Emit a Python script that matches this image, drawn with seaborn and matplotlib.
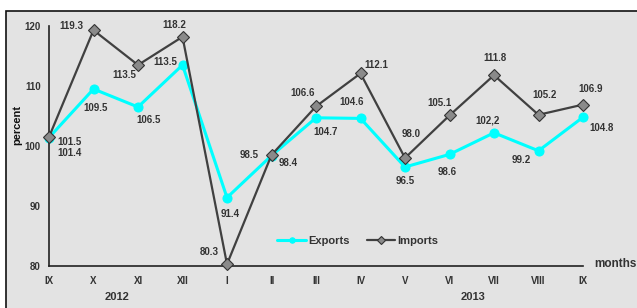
import matplotlib

matplotlib.use("Agg")

import matplotlib.pyplot as plt
import pandas as pd
import seaborn as sns
from matplotlib.patches import Rectangle

months = ["IX", "X", "XI", "XII", "I", "II", "III", "IV", "V", "VI", "VII", "VIII", "IX"]
exports = [101.4, 109.5, 106.5, 113.5, 91.4, 98.4, 104.7, 104.6, 96.5, 98.6, 102.2, 99.2, 104.8]
imports = [101.5, 119.3, 113.5, 118.2, 80.3, 98.5, 106.6, 112.1, 98.0, 105.1, 111.8, 105.2, 106.9]
years = ["2012", "2013"]

# label offsets in pixels (dx, dy), dy positive = up
exp_off = [(21, -15), (2, -19), (11, -13), (-17, 3), (3, -16), (17, -7),
           (10, -14), (-9, 16), (0, -14), (-2, -18), (-6, 12), (-17, -9), (19, -11)]
imp_off = [(21, -5), (-22, 4), (-14, -10), (-8, 12), (-18, 12), (-22, 0),
           (-13, 13), (16, 8), (6, 24), (-10, 12), (1, 17), (6, 20), (8, 16)]

sns.set_style("white")
plt.rcParams["font.family"] = ["Liberation Sans", "DejaVu Sans"]
TXT = "#333333"

df = pd.DataFrame({"pos": list(range(len(months))) * 2,
                   "value": exports + imports,
                   "series": ["Exports"] * len(months) + ["Imports"] * len(months)})

W, H = 637, 308
fig = plt.figure(figsize=(W / 100, H / 100), dpi=100, facecolor="white")
fig.patches.append(Rectangle((6 / W, -0.1), 1.0, (H - 11) / H + 0.1,
                             transform=fig.transFigure, facecolor="#e3e3e3",
                             edgecolor="#111111", lw=1.2, zorder=-5))

ax = fig.add_axes([49 / W, 42 / H, (583 - 49) / W, 240 / H])
ax.set_facecolor("none")
ax.set_zorder(2)

sns.lineplot(data=df[df.series == "Imports"], x="pos", y="value", ax=ax,
             color="#404040", lw=1.6, marker="D", markersize=6.5,
             markerfacecolor="#8a8a8a", markeredgecolor="#333333",
             markeredgewidth=0.8, clip_on=False, label="Imports", zorder=3)
sns.lineplot(data=df[df.series == "Exports"], x="pos", y="value", ax=ax,
             color="#00ffff", lw=2.2, marker="o", markersize=6.5,
             markeredgecolor="#00ffff", clip_on=False, label="Exports", zorder=2)

for i, (e, m) in enumerate(zip(exports, imports)):
    for v, (dx, dy) in ((e, exp_off[i]), (m, imp_off[i])):
        txt = f"{v:.1f}"
        if v is exports[10]:
            txt = txt.replace(".", ",")  # the source writes 102,2
        ax.annotate(txt, (i, v), xytext=(dx, dy), textcoords="offset pixels",
                    ha="center", va="center", fontsize=7, fontweight="bold",
                    color=TXT, annotation_clip=False)

ax.set_xlim(0, 12)
ax.set_ylim(80, 120)
ax.set_xticks(range(len(months)))
ax.set_xticklabels(months)
ax.set_yticks([80, 90, 100, 110, 120])
ax.tick_params(axis="x", direction="inout", length=6, width=1, colors=TXT,
               labelsize=7, pad=4)
ax.tick_params(axis="y", direction="out", length=4, width=1, colors=TXT,
               labelsize=7, pad=2)
for lab in ax.get_xticklabels() + ax.get_yticklabels():
    lab.set_fontweight("bold")
for s in ("top", "right"):
    ax.spines[s].set_visible(False)
for s in ("left", "bottom"):
    ax.spines[s].set_color("#222222")
    ax.spines[s].set_linewidth(1.2)
ax.set_xlabel("")
ax.set_ylabel("percent", fontsize=8, fontweight="bold", color="#111111")
ax.yaxis.set_label_coords((22 - 49) / (583 - 49), (266 - 125) / 240)

fig.text(594 / W, 1 - 264 / H, "months", fontsize=8.5, fontweight="bold",
         color=TXT, va="center", ha="left")
fig.text(117 / W, 1 - 297 / H, years[0], fontsize=8, fontweight="bold",
         color=TXT, va="center", ha="center")
fig.text(473 / W, 1 - 297 / H, years[1], fontsize=8, fontweight="bold",
         color=TXT, va="center", ha="center")

h, l = ax.get_legend_handles_labels()
order = [l.index("Exports"), l.index("Imports")]
leg = ax.legend([h[k] for k in order], [l[k] for k in order], ncol=2,
                frameon=False, loc="center", bbox_to_anchor=(358 / W, 1 - 241 / H),
                bbox_transform=fig.transFigure, fontsize=8, handlelength=2.6,
                columnspacing=1.5, handletextpad=0.2, markerscale=0.6)
for t in leg.get_texts():
    t.set_fontweight("bold")
    t.set_color(TXT)

fig.savefig("out.png", dpi=100)
